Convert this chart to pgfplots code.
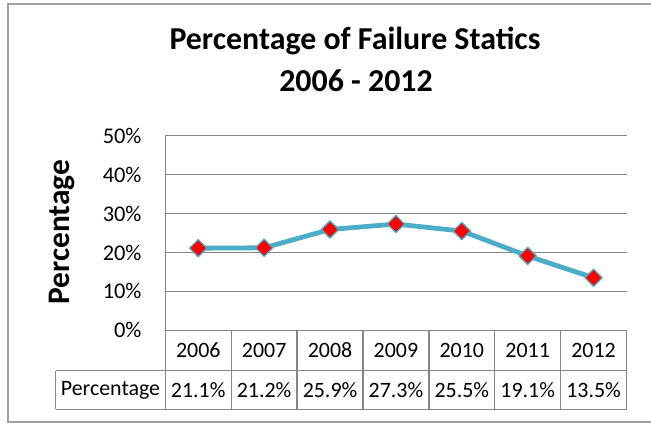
\documentclass[border=0pt]{standalone}
\usepackage{pgfplots}
\pgfplotsset{compat=1.18}
\usepackage{fontspec}
\setmainfont{Carlito}
\definecolor{linecol}{HTML}{4BACC6}
\definecolor{gridcol}{HTML}{878787}
\definecolor{framecol}{HTML}{A0A0A0}
\begin{document}
\begin{tikzpicture}[x=1bp,y=1bp]
\useasboundingbox (0,0) rectangle (651,423);
\draw[framecol, line width=2bp] (655,1) -- (8,1) -- (8,418.7) -- (655,418.7);
% title
\node[anchor=base, font=\fontsize{32}{38}\selectfont\bfseries] at (355,374) {Percentage of Failure Statics};
\node[anchor=base, font=\fontsize{32}{38}\selectfont\bfseries] at (356,332) {2006 - 2012};
% y label
\node[rotate=90, font=\fontsize{31.5}{37}\selectfont\bfseries] at (61.5,191) {Percentage};
\begin{axis}[
  at={(165.3bp,92.7bp)}, anchor=south west,
  scale only axis, width=461.2bp, height=194.6bp,
  xmin=-0.5, xmax=6.5, ymin=0, ymax=50,
  xtick=\empty,
  ytick={0,10,...,50},
  yticklabel={\pgfmathprintnumber{\tick}\%},
  /pgf/number format/assume math mode=true,
  yticklabel style={font=\fontsize{22.5}{27}\selectfont, anchor=east, inner sep=0pt, xshift=-23.6bp},
  ytick style={draw=none},
  axis line style={draw=none},
  ymajorgrids, grid style={gridcol, line width=1.3bp},
  clip=false,
]
\addplot[linecol, line width=4.8bp, line join=round,
  mark=square*, mark size=6.1bp,
  mark options={fill=red, draw=linecol, line width=1.3bp, rotate=45}]
  coordinates {(0,21.1) (1,21.2) (2,25.9) (3,27.3) (4,25.5) (5,19.1) (6,13.5)};
\draw[gridcol, line width=1.3bp] (rel axis cs:0,0) -- (rel axis cs:0,1);
\end{axis}
% data table
\begin{scope}[gridcol, line width=1.3bp]
\draw (165.3,92.7) -- (626.5,92.7);
\draw (55.7,52.3) -- (626.5,52.3);
\draw (55.7,13.7) -- (626.5,13.7);
\draw (55.7,52.3) -- (55.7,13.7);
\foreach \k in {0,...,7} {
  \draw ({165.3+\k*65.886},92.7) -- ({165.3+\k*65.886},13.7);
}
\end{scope}
\begin{scope}[every node/.style={font=\fontsize{22}{26}\selectfont}]
\foreach \yr [count=\i from 0] in {2006,2007,2008,2009,2010,2011,2012} {
  \node at ({165.3+\i*65.886+32.943},72.5) {\yr};
}
\foreach \v [count=\i from 0] in {21.1,21.2,25.9,27.3,25.5,19.1,13.5} {
  \node at ({165.3+\i*65.886+32.943},33) {\v\%};
}
\node at (110.5,33) {Percentage};
\end{scope}
\end{tikzpicture}
\end{document}
